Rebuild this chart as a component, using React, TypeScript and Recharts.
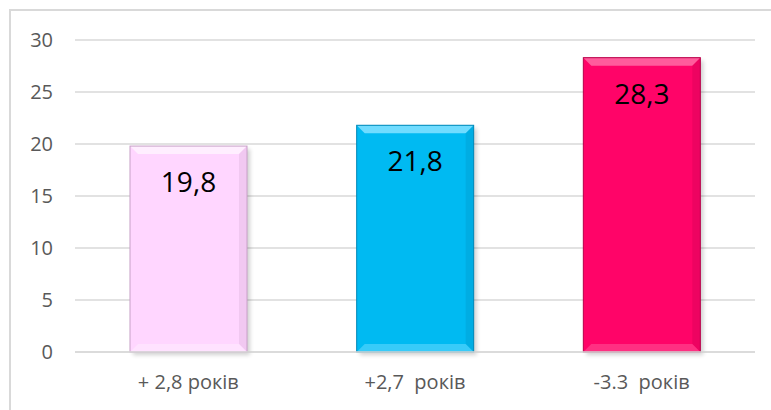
import React from 'react';
import { BarChart, Bar, XAxis, YAxis, CartesianGrid, LabelList, Cell } from 'recharts';

const categories = ['+ 2,8 років', '+2,7  років', '-3.3  років'];
const values = [19.8, 21.8, 28.3];
const valueLabels = ['19,8', '21,8', '28,3'];
const yTicks = [0, 5, 10, 15, 20, 25, 30];
const barColors = ['#FFD6FF', '#00BAF2', '#FF0468'];
const lightColors = ['#FFEEFF', '#70DCFF', '#FF5C9C'];
const darkColors = ['#C8A0C8', '#0088B8', '#B8004A'];

const data = categories.map((c, i) => ({ name: c, value: values[i], label: valueLabels[i], idx: i }));

const FONT = '"Open Sans", sans-serif';

const BevelBar = (props: any) => {
  const { x, y, width, height, payload } = props;
  const i = payload.idx;
  const b = 8;
  const base = barColors[i];
  const light = lightColors[i];
  const dark = darkColors[i];
  return (
    <g>
      <rect x={x + 3} y={y + 3} width={width} height={height} fill="#000" opacity={0.18} filter="url(#blurS)" />
      <rect x={x} y={y} width={width} height={height} fill={base} />
      <polygon points={`${x},${y} ${x + width},${y} ${x + width - b},${y + b} ${x + b},${y + b}`} fill={light} />
      <polygon points={`${x + width},${y} ${x + width - b},${y + b} ${x + width - b},${y + height - b} ${x + width},${y + height}`} fill={dark} opacity={0.25} />
      <polygon points={`${x},${y + height} ${x + b},${y + height - b} ${x + width - b},${y + height - b} ${x + width},${y + height}`} fill={light} opacity={0.5} />
      <rect x={x} y={y} width={width} height={height} fill="none" stroke={dark} strokeWidth={1} />
    </g>
  );
};

const XTick = (props: any) => {
  const { x, y, payload } = props;
  return (
    <text x={x} y={y} dy={17} textAnchor="middle" fill="#595959" fontSize={20} fontFamily={FONT} style={{ whiteSpace: 'pre' }}>
      {payload.value}
    </text>
  );
};

const YTick = (props: any) => {
  const { y, payload } = props;
  return (
    <text x={53} y={y} dy={7} textAnchor="end" fill="#595959" fontSize={20} fontFamily={FONT}>
      {payload.value}
    </text>
  );
};

const ValueLabel = (props: any) => {
  const { x, y, width, value } = props;
  return (
    <text x={x + width / 2} y={y + 46} textAnchor="middle" fill="#000" fontSize={28} fontFamily={FONT}>
      {value}
    </text>
  );
};

export default function App() {
  return (
    <div style={{ position: 'absolute', left: 0, top: 0, width: 771, height: 410, overflow: 'hidden', background: '#fff' }}>
      <div style={{ position: 'absolute', left: 9, top: 9, width: 800, height: 440, border: '2px solid #d9d9d9', boxSizing: 'border-box' }} />
      <div style={{ position: 'absolute', left: 0, top: 0 }}>
        <BarChart width={771} height={410} data={data} margin={{ top: 40, right: 16, bottom: 28, left: 0 }} barCategoryGap={55}>
          <defs>
            <filter id="blurS" x="-20%" y="-20%" width="140%" height="140%">
              <feGaussianBlur stdDeviation="2" />
            </filter>
          </defs>
          <CartesianGrid vertical={false} stroke="#d9d9d9" strokeWidth={1.5} />
          <XAxis dataKey="name" height={30} axisLine={{ stroke: '#d9d9d9', strokeWidth: 1.5 }} tickLine={false} tick={<XTick />} tickMargin={14} interval={0} />
          <YAxis domain={[0, 30]} ticks={yTicks} width={75} axisLine={false} tickLine={false} tick={<YTick />} interval={0} />
          <Bar dataKey="value" shape={<BevelBar />} isAnimationActive={false}>
            {data.map((d, i) => (
              <Cell key={i} fill={barColors[i]} />
            ))}
            <LabelList dataKey="label" content={<ValueLabel />} />
          </Bar>
        </BarChart>
      </div>
    </div>
  );
}
